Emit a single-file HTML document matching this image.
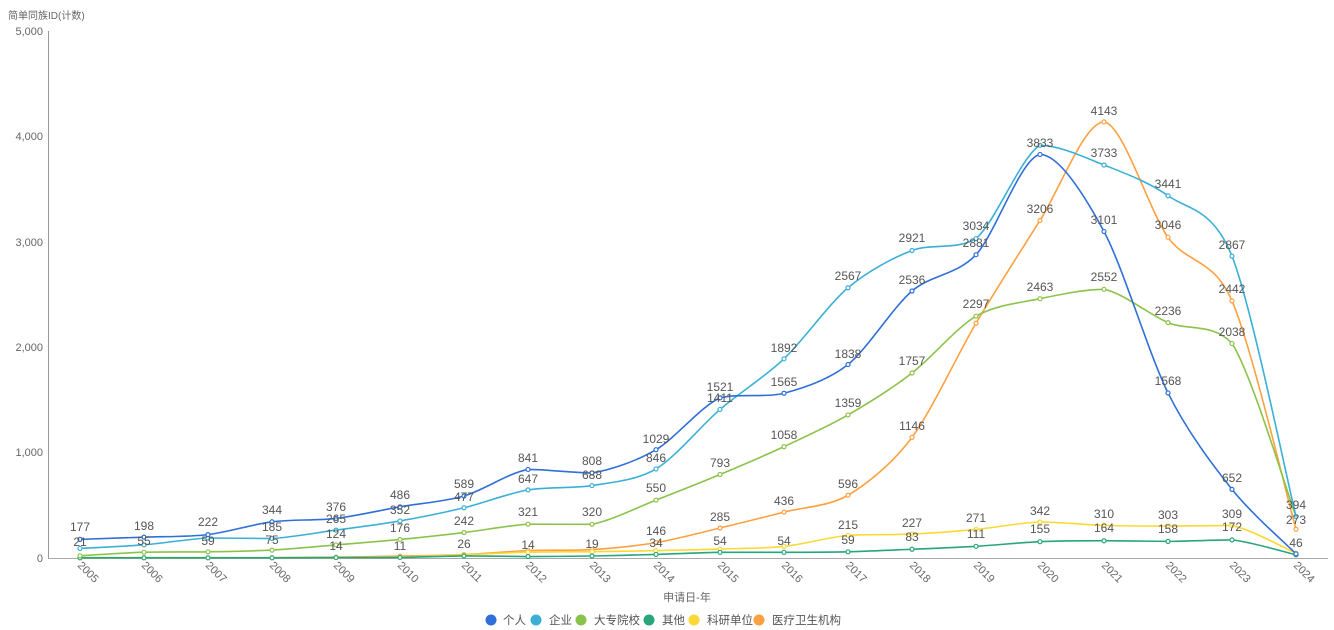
<!DOCTYPE html>
<html><head><meta charset="utf-8"><style>
body{margin:0;background:#fff;}
svg{display:block;font-family:"Liberation Sans","Noto Sans CJK SC",sans-serif;}
.t{font-size:12px;fill:#555;text-anchor:middle}
.ax{font-size:11px;fill:#666}
</style></head><body>
<svg id="s" width="1334" height="630" viewBox="0 0 1334 630">
<text x="8" y="19" class="ax" style="font-size:10px">简单同族ID(计数)</text>
<g class="ax" text-anchor="end">
<text x="43" y="35">5,000</text><text x="43" y="140">4,000</text><text x="43" y="246">3,000</text>
<text x="43" y="351">2,000</text><text x="43" y="456">1,000</text><text x="43" y="562">0</text>
</g>
<line x1="48.5" y1="31" x2="48.5" y2="558" stroke="#999"/>
<line x1="48" y1="558.5" x2="1328" y2="558.5" stroke="#aaa"/>
<g id="xl" class="ax">
<text transform="translate(77,566) rotate(45)">2005</text>
<text transform="translate(141,566) rotate(45)">2006</text>
<text transform="translate(205,566) rotate(45)">2007</text>
<text transform="translate(269,566) rotate(45)">2008</text>
<text transform="translate(333,566) rotate(45)">2009</text>
<text transform="translate(397,566) rotate(45)">2010</text>
<text transform="translate(461,566) rotate(45)">2011</text>
<text transform="translate(525,566) rotate(45)">2012</text>
<text transform="translate(589,566) rotate(45)">2013</text>
<text transform="translate(653,566) rotate(45)">2014</text>
<text transform="translate(717,566) rotate(45)">2015</text>
<text transform="translate(781,566) rotate(45)">2016</text>
<text transform="translate(845,566) rotate(45)">2017</text>
<text transform="translate(909,566) rotate(45)">2018</text>
<text transform="translate(973,566) rotate(45)">2019</text>
<text transform="translate(1037,566) rotate(45)">2020</text>
<text transform="translate(1101,566) rotate(45)">2021</text>
<text transform="translate(1165,566) rotate(45)">2022</text>
<text transform="translate(1229,566) rotate(45)">2023</text>
<text transform="translate(1293,566) rotate(45)">2024</text>
</g>
<text x="687" y="601" class="ax" text-anchor="middle">申请日-年</text>
<g id="lines"></g>
<g class="t">
<text x="80" y="531">177</text><text x="144" y="530">198</text><text x="208" y="526">222</text><text x="272" y="514">344</text><text x="336" y="511">376</text><text x="400" y="499">486</text><text x="464" y="488">589</text><text x="528" y="462">841</text><text x="592" y="465">808</text><text x="656" y="443">1029</text><text x="720" y="391">1521</text><text x="784" y="386">1565</text><text x="848" y="358">1838</text><text x="912" y="284">2536</text><text x="976" y="247">2881</text><text x="1040" y="147">3833</text><text x="1104" y="224">3101</text><text x="1168" y="385">1568</text><text x="1232" y="482">652</text>
<text x="272" y="531">185</text><text x="336" y="523">265</text><text x="400" y="514">352</text><text x="464" y="501">477</text><text x="528" y="483">647</text><text x="592" y="479">688</text><text x="656" y="462">846</text><text x="720" y="402">1411</text><text x="784" y="352">1892</text><text x="848" y="280">2567</text><text x="912" y="242">2921</text><text x="976" y="230">3034</text><text x="1104" y="157">3733</text><text x="1168" y="188">3441</text><text x="1232" y="249">2867</text><text x="1296" y="509">394</text>
<text x="80" y="546">21</text><text x="144" y="545">55</text><text x="208" y="545">59</text><text x="272" y="544">75</text><text x="336" y="538">124</text><text x="400" y="532">176</text><text x="464" y="525">242</text><text x="528" y="516">321</text><text x="592" y="516">320</text><text x="656" y="492">550</text><text x="720" y="467">793</text><text x="784" y="439">1058</text><text x="848" y="407">1359</text><text x="912" y="365">1757</text><text x="976" y="308">2297</text><text x="1040" y="291">2463</text><text x="1104" y="281">2552</text><text x="1168" y="315">2236</text><text x="1232" y="336">2038</text>
<text x="336" y="550">14</text><text x="400" y="550">11</text><text x="464" y="548">26</text><text x="528" y="549">14</text><text x="592" y="548">19</text><text x="656" y="547">34</text><text x="720" y="545">54</text><text x="784" y="545">54</text><text x="848" y="544">59</text><text x="912" y="541">83</text><text x="976" y="538">111</text><text x="1040" y="533">155</text><text x="1104" y="532">164</text><text x="1168" y="533">158</text><text x="1232" y="531">172</text><text x="1296" y="547">46</text>
<text x="848" y="529">215</text><text x="912" y="527">227</text><text x="976" y="522">271</text><text x="1040" y="515">342</text><text x="1104" y="518">310</text><text x="1168" y="519">303</text><text x="1232" y="518">309</text>
<text x="656" y="535">146</text><text x="720" y="521">285</text><text x="784" y="505">436</text><text x="848" y="488">596</text><text x="912" y="430">1146</text><text x="1040" y="213">3206</text><text x="1104" y="115">4143</text><text x="1168" y="229">3046</text><text x="1232" y="293">2442</text><text x="1296" y="524">273</text>
</g>
<g font-size="11.5" fill="#555">
<circle cx="491" cy="620" r="5.5" fill="#2e6fd9"/><text x="503" y="624">个人</text>
<circle cx="536" cy="620" r="5.5" fill="#3bb0d6"/><text x="549" y="624">企业</text>
<circle cx="581" cy="620" r="5.5" fill="#8bc34a"/><text x="594" y="624">大专院校</text>
<circle cx="649" cy="620" r="5.5" fill="#26a67a"/><text x="662" y="624">其他</text>
<circle cx="694" cy="620" r="5.5" fill="#fdd835"/><text x="707" y="624">科研单位</text>
<circle cx="759" cy="620" r="5.5" fill="#ffa040"/><text x="772" y="624">医疗卫生机构</text>
</g>
</svg>
<script>
var S=[
["#ffa040",[3,3,3,3,8,18,33,70,80,146,285,436,596,1146,2230,3206,4143,3046,2442,273]],
["#fdd835",[2,2,2,2,5,10,30,55,60,70,85,110,215,227,271,342,310,303,309,46]],
["#26a67a",[2,2,2,2,4,5,20,14,19,34,54,54,59,83,111,155,164,158,172,30]],
["#8bc34a",[21,55,59,75,124,176,242,321,320,550,793,1058,1359,1757,2297,2463,2552,2236,2038,394]],
["#3bb0d6",[91,125,190,185,265,352,477,647,688,846,1411,1892,2567,2921,3034,3920,3733,3441,2867,394]],
["#2e6fd9",[177,198,222,344,376,486,589,841,808,1029,1521,1565,1838,2536,2881,3833,3101,1568,652,40]]
];
var g=document.getElementById('lines'),h="";
S.forEach(function(s){
 var p=s[1].map(function(v,i){return [80+64.0*i,558-v*0.10528];});
 var d="M"+p[0][0]+","+p[0][1],k=0.3;
 for(var i=0;i<p.length-1;i++){
  var a=p[i-1]||p[i],b=p[i],c=p[i+1],e=p[i+2]||c;
  var c1x=b[0]+(c[0]-a[0])*k/2, c1y=b[1]+(c[1]-a[1])*k/2;
  var c2x=c[0]-(e[0]-b[0])*k/2, c2y=c[1]-(e[1]-b[1])*k/2;
  c1y=Math.max(Math.min(c1y,Math.max(b[1],c[1])),Math.min(b[1],c[1]));
  c2y=Math.max(Math.min(c2y,Math.max(b[1],c[1])),Math.min(b[1],c[1]));
  d+=" C"+c1x+","+c1y+" "+c2x+","+c2y+" "+c[0]+","+c[1];
 }
 h+='<path d="'+d+'" fill="none" stroke="'+s[0]+'" stroke-width="1.6"/>';
 p.forEach(function(q){h+='<circle cx="'+q[0]+'" cy="'+q[1]+'" r="2" fill="#fff" stroke="'+s[0]+'" stroke-width="1.2"/>';});
});
g.innerHTML=h;
</script>
</body></html>
